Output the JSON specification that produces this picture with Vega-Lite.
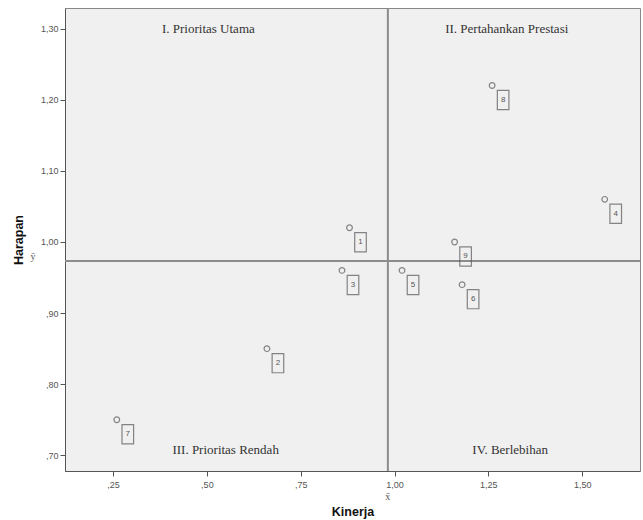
{
  "$schema": "https://vega.github.io/schema/vega-lite/v6.json",
  "autosize": {"type": "none"},
  "padding": {"left": 65, "top": 8, "right": 3, "bottom": 49},
  "width": 575,
  "height": 463,
  "background": "white",
  "config": {
    "view": {"fill": "#f0f0f0", "stroke": "#888888", "strokeWidth": 1},
    "axis": {"grid": false, "domainColor": "#555555", "tickColor": "#555555", "labelColor": "#555555", "labelFont": "Liberation Sans", "labelFontSize": 9, "titleFont": "Liberation Sans", "titleFontSize": 12.5, "titleFontWeight": "bold", "titleColor": "#111111", "tickSize": 5}
  },
  "datasets": {
    "pts": [
      {"id": "1", "kinerja": 0.88, "harapan": 1.02},
      {"id": "2", "kinerja": 0.66, "harapan": 0.85},
      {"id": "3", "kinerja": 0.86, "harapan": 0.96},
      {"id": "4", "kinerja": 1.56, "harapan": 1.06},
      {"id": "5", "kinerja": 1.02, "harapan": 0.96},
      {"id": "6", "kinerja": 1.18, "harapan": 0.94},
      {"id": "7", "kinerja": 0.26, "harapan": 0.75},
      {"id": "8", "kinerja": 1.26, "harapan": 1.22},
      {"id": "9", "kinerja": 1.16, "harapan": 1.00}
    ],
    "quad": [
      {"label": "I. Prioritas Utama", "kinerja": 0.504, "harapan": 1.30},
      {"label": "II. Pertahankan Prestasi", "kinerja": 1.299, "harapan": 1.30},
      {"label": "III. Prioritas Rendah", "kinerja": 0.55, "harapan": 0.707},
      {"label": "IV. Berlebihan", "kinerja": 1.308, "harapan": 0.707}
    ]
  },
  "layer": [
    {
      "data": {"name": "quad"},
      "mark": {"type": "text", "font": "Liberation Serif", "fontSize": 13, "color": "#333333", "baseline": "middle", "align": "center"},
      "encoding": {
        "x": {"field": "kinerja", "type": "quantitative", "title": "Kinerja",
          "scale": {"domain": [0.122, 1.654], "nice": false, "zero": false},
          "axis": {"values": [0.25, 0.5, 0.75, 1, 1.25, 1.5], "labelPadding": 4, "titlePadding": 16,
            "labelExpr": "datum.value < 1 ? replace(format(datum.value, '.2f'), '0.', ',') : replace(format(datum.value, '.2f'), '.', ',')"}},
        "y": {"field": "harapan", "type": "quantitative", "title": "Harapan",
          "scale": {"domain": [0.678, 1.329], "nice": false, "zero": false},
          "axis": {"values": [0.7, 0.8, 0.9, 1.0, 1.1, 1.2, 1.3], "labelPadding": 2, "titlePadding": 15,
            "labelExpr": "datum.value < 1 ? replace(format(datum.value, '.2f'), '0.', ',') : replace(format(datum.value, '.2f'), '.', ',')"}},
        "text": {"field": "label"}
      }
    },
    {
      "data": {"name": "pts"},
      "transform": [{"aggregate": [{"op": "mean", "field": "kinerja", "as": "kinerja"}]}],
      "mark": {"type": "rule", "color": "#8c8c8c", "strokeWidth": 2},
      "encoding": {"x": {"field": "kinerja", "type": "quantitative"}}
    },
    {
      "data": {"name": "pts"},
      "transform": [{"aggregate": [{"op": "mean", "field": "harapan", "as": "harapan"}]}],
      "mark": {"type": "rule", "color": "#8c8c8c", "strokeWidth": 2},
      "encoding": {"y": {"field": "harapan", "type": "quantitative"}}
    },
    {
      "data": {"name": "pts"},
      "transform": [{"aggregate": [{"op": "mean", "field": "kinerja", "as": "kinerja"}]}],
      "mark": {"type": "text", "font": "Liberation Serif", "fontSize": 10, "color": "#555555", "baseline": "middle", "align": "center", "dy": 26},
      "encoding": {
        "x": {"field": "kinerja", "type": "quantitative"},
        "y": {"datum": 0.678, "type": "quantitative"},
        "text": {"value": "x\u0304"}
      }
    },
    {
      "data": {"name": "pts"},
      "transform": [{"aggregate": [{"op": "mean", "field": "harapan", "as": "harapan"}]}],
      "mark": {"type": "text", "font": "Liberation Serif", "fontSize": 10, "color": "#555555", "baseline": "middle", "align": "center", "dx": -32, "dy": -4},
      "encoding": {
        "y": {"field": "harapan", "type": "quantitative"},
        "x": {"datum": 0.122, "type": "quantitative"},
        "text": {"value": "\u0233"}
      }
    },
    {
      "data": {"name": "pts"},
      "mark": {"type": "point", "shape": "circle", "filled": false, "size": 32, "stroke": "#555555", "strokeWidth": 1.2},
      "encoding": {"x": {"field": "kinerja", "type": "quantitative"}, "y": {"field": "harapan", "type": "quantitative"}}
    },
    {
      "data": {"name": "pts"},
      "mark": {"type": "point", "shape": "M-0.58,-0.96L0.58,-0.96L0.58,0.96L-0.58,0.96Z", "filled": false, "size": 400, "stroke": "#555555", "strokeWidth": 1.2, "xOffset": 11, "yOffset": 14.5},
      "encoding": {"x": {"field": "kinerja", "type": "quantitative"}, "y": {"field": "harapan", "type": "quantitative"}}
    },
    {
      "data": {"name": "pts"},
      "mark": {"type": "text", "font": "Liberation Sans", "fontSize": 8, "color": "#555555", "dx": 11, "dy": 14.5, "baseline": "middle", "align": "center"},
      "encoding": {"x": {"field": "kinerja", "type": "quantitative"}, "y": {"field": "harapan", "type": "quantitative"}, "text": {"field": "id"}}
    }
  ]
}
